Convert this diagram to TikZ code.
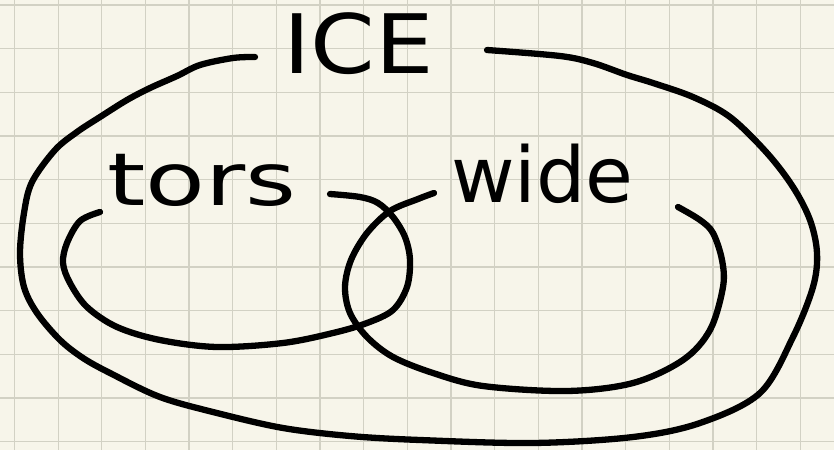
\documentclass[tikz,border=0pt]{standalone}
\usepackage{fontspec}
\setmainfont{DejaVu Sans}
\definecolor{paper}{HTML}{F7F5EA}
\definecolor{gridc}{HTML}{D2D1C4}
\tikzset{
  ink/.style={line width=6.3pt, line cap=round, line join=round, black},
  gridline/.style={gridc, line width=1.3pt},
  word/.style={inner sep=0pt, anchor=base west, transform shape}
}
\begin{document}
\begin{tikzpicture}[x=1pt,y=-1pt]
\fill[paper] (0,0) rectangle (834,450);
\useasboundingbox (0,0) rectangle (834,450);
\foreach \i in {0,...,19} {\draw[gridline] (14.5+43.65*\i,0) -- (14.5+43.65*\i,450);}
\foreach \j in {0,...,10} {\draw[gridline] (0,5+43.65*\j) -- (834,5+43.65*\j);}
% labels
\node[word, font=\fontsize{82}{90}\selectfont, xscale=1.13] (ice) at (283,73) {ICE};
\node[word, font=\fontsize{73}{80}\selectfont, xscale=1.34] (tors) at (107,205) {tors};
\node[word, font=\fontsize{77}{84}\selectfont, xscale=1.01] (wide) at (451,202) {wide};
% outer ICE loop
\draw[ink] plot[smooth, tension=0.55] coordinates {
 (255,57) (233,58) (200,65) (177,76) (150,88) (127,100) (100,117) (77,132)
 (55,150) (32,182) (24,213) (20,253) (24,287) (37,313) (60,340) (83,358)
 (110,373) (160,397) (217,413) (283,428) (350,436) (420,440) (533,443)
 (633,437) (700,423) (760,393) (793,337) (813,287) (817,253) (810,220)
 (793,187) (767,153) (730,117) (693,97) (653,83) (627,75) (593,63)
 (560,56) (487,50)};
% tors loop
\draw[ink] plot[smooth, tension=0.55] coordinates {
 (100,212) (80,221) (67,243) (63,263) (70,283) (87,307) (117,327) (160,340)
 (217,347) (283,343) (333,333) (367,323) (393,310) (407,287) (410,260)
 (405,237) (393,217) (378,203) (360,197) (330,194)};
% wide loop
\draw[ink] plot[smooth, tension=0.55] coordinates {
 (434,193) (418,199) (390,211) (367,233) (351,260) (345,287) (350,313)
 (367,337) (393,357) (433,373) (483,386) (567,391) (633,383) (683,360)
 (710,330) (723,287) (722,260) (713,233) (700,220) (678,207)};
\end{tikzpicture}
\end{document}
